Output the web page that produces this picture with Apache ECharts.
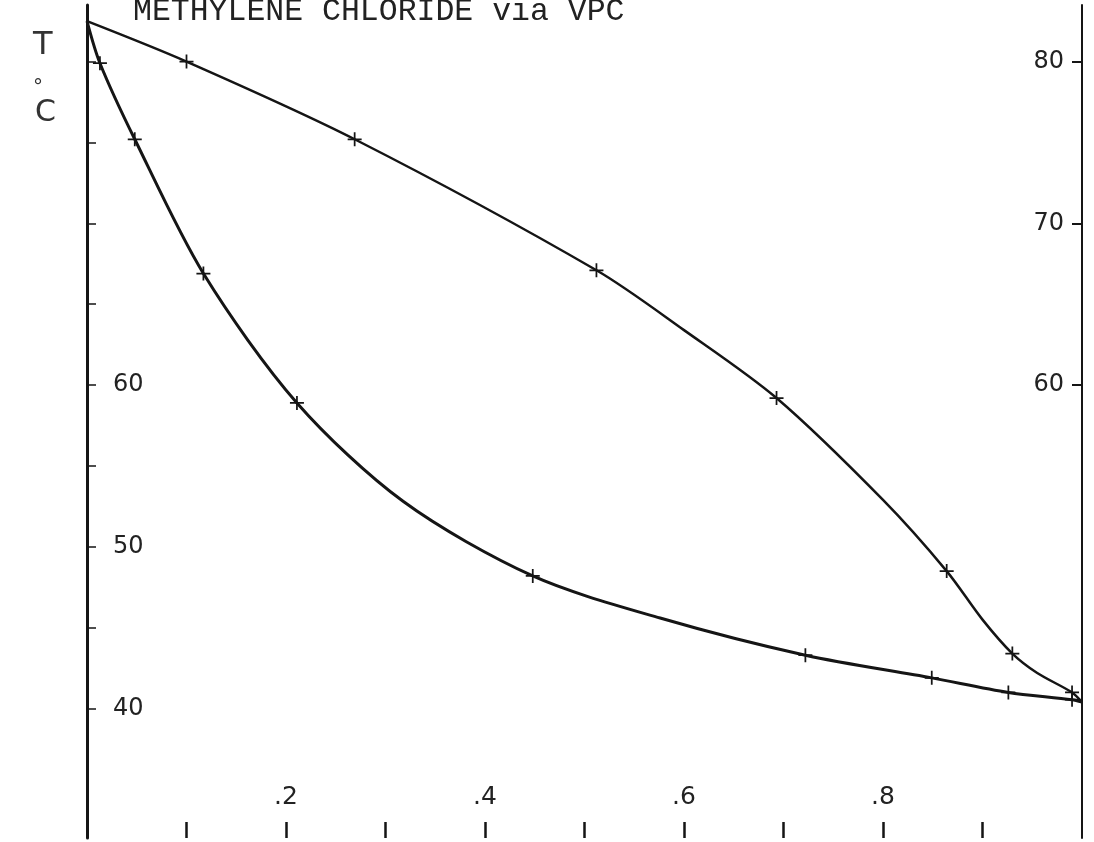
<!DOCTYPE html>
<html>
<head>
<meta charset="utf-8">
<script src="https://cdn.jsdelivr.net/npm/echarts@6/dist/echarts.min.js"></script>
<style>
html,body{margin:0;padding:0;background:#fff}
#chart{width:1094px;height:842px}
</style>
</head>
<body>
<div id="chart"></div>
<script>
var chartTitle = 'METHYLENE CHLORIDE via VPC';

// upper curve (vapour); mark = 1 where a cross is drawn
var vaporX    = [0,    0.100, 0.269, 0.512, 0.600, 0.693, 0.800, 0.864, 0.900, 0.930, 0.955, 0.990, 1.0];
var vaporT    = [82.5, 80.0,  75.2,  67.1,  63.4,  59.2,  52.9,  48.5,  45.5,  43.4,  42.2,  41.0,  40.4];
var vaporMark = [0,    1,     1,     1,     0,     1,     0,     1,     0,     1,     0,     1,     0];

// lower curve (liquid)
var liquidX    = [0,    0.013, 0.048, 0.117, 0.211, 0.318, 0.448, 0.576, 0.722, 0.849, 0.926, 0.990, 1.0];
var liquidT    = [82.5, 79.9,  75.2,  66.9,  58.9,  52.8,  48.2,  45.6,  43.3,  41.9,  41.0,  40.55, 40.4];
var liquidMark = [0,    1,     1,     1,     1,     0,     1,     0,     1,     1,     1,     1,     0];

var xTicks = [0.1, 0.2, 0.3, 0.4, 0.5, 0.6, 0.7, 0.8, 0.9];
var xLabels = [0.2, 0.4, 0.6, 0.8];
var yTicks = [40, 45, 50, 55, 60, 65, 70, 75, 80];
var leftLabels = [40, 50, 60];
var rightLabels = [60, 70, 80];

var cross = 'path://M-1,-8h2v16h-2zM-8,-1h16v2h-16z';
var ink = '#151515';
var hand = 'DejaVu Sans';

function pairs(xs, ys, marks){
  var out = [];
  for(var i=0;i<xs.length;i++){
    var p = {value:[xs[i], ys[i]]};
    if(!marks[i]) p.symbol = 'none';
    out.push(p);
  }
  return out;
}

var myChart = echarts.init(document.getElementById('chart'));

var opt = {
  backgroundColor:'#fff',
  animation:false,
  grid:{left:87, right:12, top:5, bottom:4},
  xAxis:{
    type:'value', min:0, max:1,
    axisLine:{show:false},
    axisTick:{show:true, inside:true, length:16, customValues:xTicks,
      lineStyle:{color:ink, width:2.5}},
    axisLabel:{show:true, inside:true, margin:28, customValues:xLabels,
      fontFamily:hand, fontSize:25, color:'#222',
      formatter:function(v){ return '.' + Math.round(v*10); }},
    splitLine:{show:false}
  },
  yAxis:[{
    type:'value', min:32, max:83.5, position:'left',
    axisLine:{show:true, lineStyle:{color:ink, width:3}},
    axisTick:{show:true, inside:true, length:9, customValues:yTicks,
      lineStyle:{color:ink, width:1.5}},
    axisLabel:{show:true, inside:true, margin:26, customValues:leftLabels,
      fontFamily:hand, fontSize:24, color:'#222'},
    splitLine:{show:false}
  },{
    type:'value', min:32, max:83.5, position:'right',
    axisLine:{show:true, lineStyle:{color:ink, width:2}},
    axisTick:{show:true, inside:true, length:10, customValues:rightLabels,
      lineStyle:{color:ink, width:2}},
    axisLabel:{show:true, inside:true, margin:18, customValues:rightLabels,
      fontFamily:hand, fontSize:24, color:'#222'},
    splitLine:{show:false}
  }],
  graphic:[
    {type:'text', left:133, top:-4, style:{text:chartTitle,
      font:'31.5px "Liberation Mono", monospace', fill:'#222'}},
    {type:'text', left:33, top:30, style:{text:'T',
      font:'32px "DejaVu Sans"', fill:'#333'}},
    {type:'text', left:33, top:78, style:{text:'°',
      font:'20px "DejaVu Sans"', fill:'#333'}},
    {type:'text', left:35, top:98, style:{text:'C',
      font:'30px "DejaVu Sans"', fill:'#333'}}
  ],
  series:[{
    name:'vapour',
    type:'line',
    data:pairs(vaporX, vaporT, vaporMark),
    smooth:0.3,
    symbol:cross, symbolSize:14,
    itemStyle:{color:ink},
    lineStyle:{color:ink, width:2.5}
  },{
    name:'liquid',
    type:'line',
    data:pairs(liquidX, liquidT, liquidMark),
    smooth:0.3,
    symbol:cross, symbolSize:14,
    itemStyle:{color:ink},
    lineStyle:{color:ink, width:3}
  }]
};

myChart.setOption(opt);
</script>
</body>
</html>
